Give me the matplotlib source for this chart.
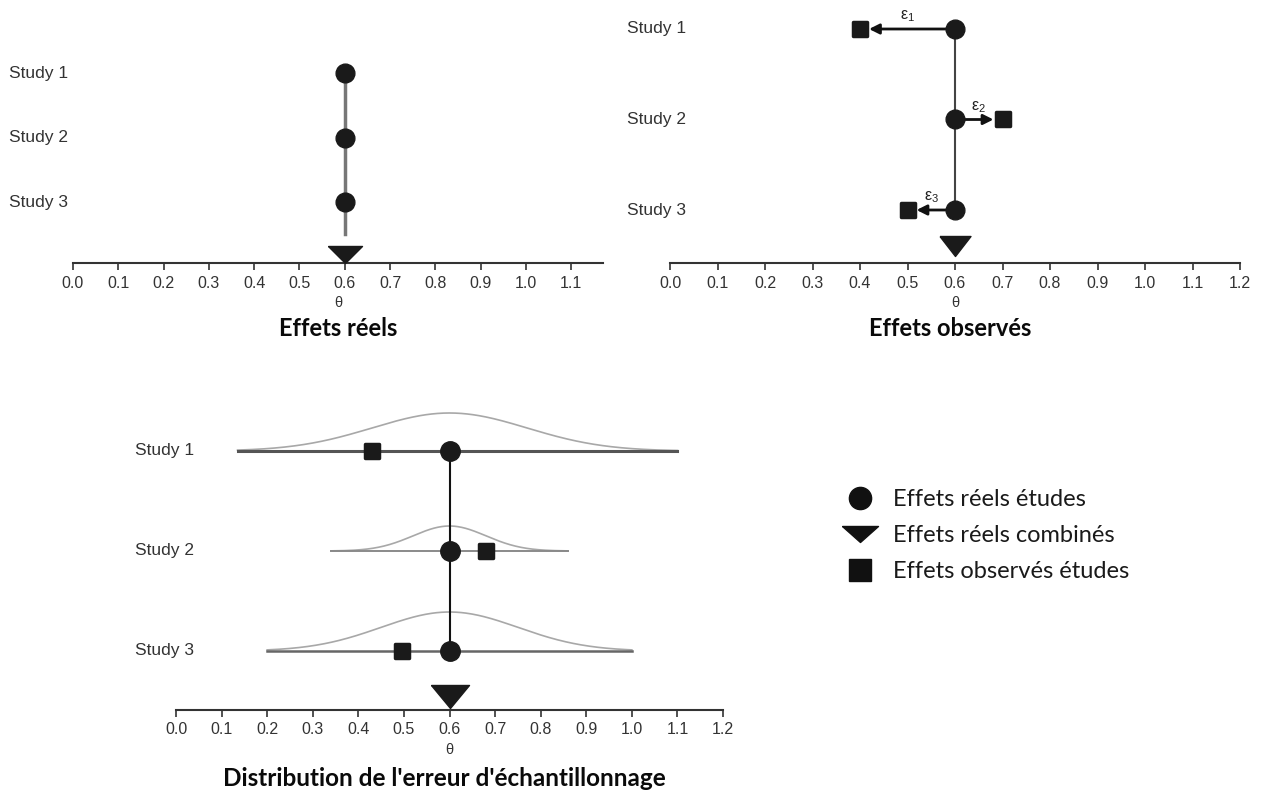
import numpy as np
import matplotlib
matplotlib.use("Agg")
import matplotlib.pyplot as plt
from matplotlib.lines import Line2D
from matplotlib.markers import MarkerStyle
from matplotlib.transforms import blended_transform_factory

W, H = 1262, 791

studies = ["Study 1", "Study 2", "Study 3"]
true_effects = [0.6, 0.6, 0.6]
combined_effect = 0.6
observed_effects = [0.4, 0.7, 0.5]
sampled_effects = [0.43, 0.68, 0.495]
error_labels = [r"$\mathregular{ε_1}$", r"$\mathregular{ε_2}$", r"$\mathregular{ε_3}$"]
range_low = [0.135, 0.34, 0.2]
range_high = [1.10, 0.86, 1.0]
spread_sd = [0.17, 0.08, 0.15]
curve_height = [0.38, 0.25, 0.39]

legend_labels = ["Effets réels études", "Effets réels combinés", "Effets observés études"]

plt.rcParams["font.family"] = ["Liberation Sans", "DejaVu Sans"]
plt.rcParams["mathtext.fontset"] = "dejavusans"

fig = plt.figure(figsize=(W / 100, H / 100), dpi=100)


def px_axes(left, top, right, bottom):
    return fig.add_axes([left / W, 1 - bottom / H, (right - left) / W, (bottom - top) / H])


def wedge(w, h, apex_y=0.0):
    # downward triangle, w x h pixels, apex at apex_y relative to the data point
    pts = np.array([(-w / 2, apex_y + h), (w / 2, apex_y + h), (0, apex_y), (-w / 2, apex_y + h)])
    m = np.abs(pts).max()
    return MarkerStyle(pts / m), 2 * m * 0.72


def setup(ax, xmax, ticks, first_px, step_px, top_px, bottom_px):
    ax.set_xlim(0, xmax)
    ax.set_ylim((bottom_px - first_px) / step_px, (top_px - first_px) / step_px)
    for s in ["left", "right", "top"]:
        ax.spines[s].set_visible(False)
    ax.spines["bottom"].set_color("#333333")
    ax.spines["bottom"].set_linewidth(1.5)
    ax.set_yticks([])
    ax.set_xticks(ticks)
    ax.set_xticklabels([f"{t:.1f}" for t in ticks])
    ax.tick_params(axis="x", direction="out", length=5, width=1.2, color="#333333",
                   labelsize=11.5, labelcolor="#333333", pad=4)
    ax.set_xlabel("θ", fontsize=10.5, color="#333333", labelpad=4)
    ax.patch.set_alpha(0)


def study_labels(ax, x_px):
    tr = blended_transform_factory(fig.transFigure, ax.transData)
    for i, name in enumerate(studies):
        ax.text(x_px / W, i, name, transform=tr, ha="left", va="center",
                fontsize=12.5, color="#333333")


def title(x_px, y_px, text, size):
    fig.text(x_px / W, 1 - y_px / H, text, fontsize=size, fontweight="bold",
             family="Lato", ha="center", va="center", color="#0a0a0a")


rows = np.arange(len(studies))
square = MarkerStyle("s", joinstyle="round")

# --- true effects -------------------------------------------------------
ax1 = px_axes(73, 20, 603, 263)
setup(ax1, 1.17, np.round(np.arange(0, 1.11, 0.1), 1), 73, 64.5, 20, 263)
study_labels(ax1, 9)
ax1.plot([combined_effect, combined_effect], [0, 2.5], color="#777777", lw=2.5, zorder=1)
ax1.plot(true_effects, rows, "o", color="#1a1a1a", ms=13.5, zorder=3)
tri, tri_ms = wedge(34, 17)
ax1.plot([combined_effect], [ax1.get_ylim()[0]], marker=tri, ms=tri_ms, color="#1a1a1a",
         ls="none", clip_on=False, zorder=3)
title(338, 328, "Effets réels", 17)

# --- observed effects ---------------------------------------------------
ax2 = px_axes(670, 5, 1240, 263)
setup(ax2, 1.2, np.round(np.arange(0, 1.21, 0.1), 1), 29, 90.5, 5, 263)
study_labels(ax2, 627)
ax2.plot([combined_effect, combined_effect], [0, 2], color="#444444", lw=1.5, zorder=1)
for i in rows:
    ax2.annotate("", xy=(observed_effects[i], i), xytext=(true_effects[i], i),
                 arrowprops=dict(arrowstyle="-|>,head_length=0.6,head_width=0.3",
                                 color="#111111", lw=2, shrinkA=6.5, shrinkB=6.5,
                                 mutation_scale=10), zorder=2)
    ax2.annotate(error_labels[i], xy=((true_effects[i] + observed_effects[i]) / 2, i),
                 xytext=(0, 9), textcoords="offset points", ha="center", va="center",
                 fontsize=11.5, color="#222222")
ax2.plot(true_effects, rows, "o", color="#1a1a1a", ms=13.5, zorder=3)
ax2.plot(observed_effects, rows, ls="none", marker=square, ms=10, mew=2.5,
         color="#1a1a1a", zorder=3)
tri, tri_ms = wedge(31, 20)
ax2.plot([combined_effect], [(256 - 29) / 90.5], marker=tri, ms=tri_ms, color="#1a1a1a",
         ls="none", clip_on=False, zorder=3)
title(950, 328, "Effets observés", 17)

# --- sampling error distribution -----------------------------------------
ax3 = px_axes(176, 395, 723, 710)
setup(ax3, 1.2, np.round(np.arange(0, 1.21, 0.1), 1), 451, 100, 395, 710)
study_labels(ax3, 135)
line_colors = ["#555555", "#8a8a8a", "#666666"]
line_widths = [2.2, 1.4, 1.8]
for i in rows:
    xs = np.linspace(range_low[i], range_high[i], 300)
    ys = i - curve_height[i] * np.exp(-0.5 * ((xs - true_effects[i]) / spread_sd[i]) ** 2)
    ax3.plot(xs, ys, color="#a8a8a8", lw=1.2, zorder=1)
    ax3.plot([range_low[i], range_high[i]], [i, i], color=line_colors[i],
             lw=line_widths[i], zorder=1)
ax3.plot([combined_effect, combined_effect], [0, 2], color="#111111", lw=1.5, zorder=2)
ax3.plot(true_effects, rows, "o", color="#1a1a1a", ms=14, zorder=3)
ax3.plot(sampled_effects, rows, ls="none", marker=square, ms=10.5, mew=2.5,
         color="#1a1a1a", zorder=3)
tri, tri_ms = wedge(38, 23)
ax3.plot([combined_effect], [(708 - 451) / 100], marker=tri, ms=tri_ms, color="#1a1a1a",
         ls="none", clip_on=False, zorder=3)
title(444, 779, "Distribution de l'erreur d'échantillonnage", 17.5)

# --- legend ---------------------------------------------------------------
leg_tri, leg_tri_ms = wedge(36, 16, apex_y=-8)
handles = [
    Line2D([], [], ls="none", marker="o", ms=16, color="#111111"),
    Line2D([], [], ls="none", marker=leg_tri, ms=leg_tri_ms, color="#111111"),
    Line2D([], [], ls="none", marker="s", ms=16, color="#111111"),
]
fig.legend(handles, legend_labels, loc="upper left", bbox_to_anchor=(841 / W, 1 - 489 / H),
           frameon=False, prop={"family": "Lato", "size": 17}, labelcolor="#1a1a1a",
           handlelength=1.6, handletextpad=0.6, labelspacing=0.64, borderpad=0,
           borderaxespad=0)

fig.savefig("out.png", dpi=100)
